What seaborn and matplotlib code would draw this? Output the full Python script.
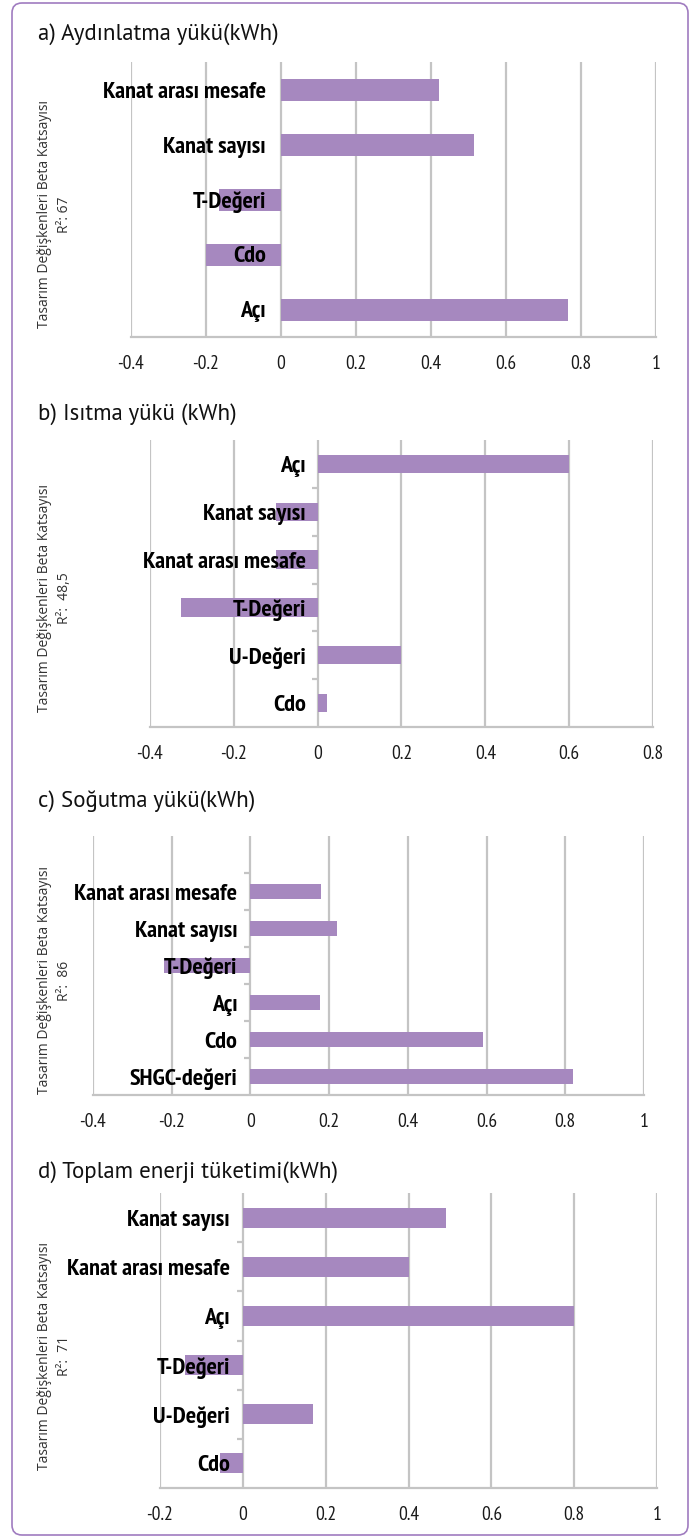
import matplotlib
matplotlib.use('Agg')
import matplotlib.pyplot as plt
import seaborn as sns
import numpy as np
import pandas as pd
from matplotlib.patches import FancyBboxPatch
from matplotlib.transforms import IdentityTransform
from matplotlib.ticker import FixedLocator
import logging
logging.getLogger('matplotlib.font_manager').setLevel(logging.ERROR)

sns.set_theme(style='white')
NARROW = ['PT Sans Narrow', 'Roboto Condensed', 'Archivo Narrow', 'Liberation Sans Narrow', 'DejaVu Sans']
TITLEF = ['PT Sans', 'Lato', 'DejaVu Sans']
LABELF = ['Open Sans', 'DejaVu Sans']
plt.rcParams['font.family'] = NARROW

# ---- data ----
a_cats = ["Kanat arası mesafe", "Kanat sayısı", "T-Değeri", "Cdo", "Açı"]
a_vals = [0.42, 0.515, -0.165, -0.20, 0.765]

b_cats = ["Açı", "Kanat sayısı", "Kanat arası mesafe", "T-Değeri", "U-Değeri", "Cdo"]
b_vals = [0.60, -0.10, -0.10, -0.325, 0.20, 0.022]

c_cats = ["Kanat arası mesafe", "Kanat sayısı", "T-Değeri", "Açı", "Cdo", "SHGC-değeri"]
c_vals = [0.18, 0.22, -0.22, 0.178, 0.59, 0.82]

d_cats = ["Kanat sayısı", "Kanat arası mesafe", "Açı", "T-Değeri", "U-Değeri", "Cdo"]
d_vals = [0.49, 0.40, 0.80, -0.14, 0.17, -0.055]

titles = ["a) Aydınlatma yükü(kWh)", "b) Isıtma yükü (kWh)",
          "c) Soğutma yükü(kWh)", "d) Toplam enerji tüketimi(kWh)"]
ylabel_main = "Tasarım Değişkenleri Beta Katsayısı"
r2_labels = ["R²: 67", "R²:  48,5", "R²:  86", "R²:  71"]

a_ticks = [-0.4, -0.2, 0, 0.2, 0.4, 0.6, 0.8, 1]
b_ticks = [-0.4, -0.2, 0, 0.2, 0.4, 0.6, 0.8]
c_ticks = [-0.4, -0.2, 0, 0.2, 0.4, 0.6, 0.8, 1]
d_ticks = [-0.2, 0, 0.2, 0.4, 0.6, 0.8, 1]

# ---- style / layout ----
W, H = 693, 1538
BAR = '#a688bf'
GRID = '#c4c4c4'
BORDER = '#a07cc0'

panels = [
    dict(cats=a_cats, vals=a_vals, ticks=a_ticks, box=(131, 656, 62, 337), width=0.4, extra=0, seps=False, title_y=34, pad=15),
    dict(cats=b_cats, vals=b_vals, ticks=b_ticks, box=(150, 653, 440, 727), width=0.38, extra=0, seps=True, title_y=414, pad=12),
    dict(cats=c_cats, vals=c_vals, ticks=c_ticks, box=(93, 644, 836, 1095), width=0.41, extra=1, seps=True, title_y=801, pad=13),
    dict(cats=d_cats, vals=d_vals, ticks=d_ticks, box=(160, 657, 1193, 1488), width=0.41, extra=0, seps=True, title_y=1172, pad=13),
]

fig = plt.figure(figsize=(W / 100, H / 100), dpi=100)
fig.patch.set_facecolor('white')

for i, p in enumerate(panels):
    x0, x1, y0, y1 = p['box']
    ax = fig.add_axes([x0 / W, 1 - y1 / H, (x1 - x0) / W, (y1 - y0) / H])
    df = pd.DataFrame({'cat': p['cats'], 'val': p['vals']})
    sns.barplot(data=df, x='val', y='cat', orient='h', order=p['cats'],
                color=BAR, saturation=1, width=p['width'], errorbar=None,
                linewidth=0, ax=ax)
    n = len(p['cats'])
    ticks = p['ticks']
    ax.set_xlim(ticks[0], ticks[-1])
    ax.set_ylim(n - 0.5, -0.5 - p['extra'])
    ax.set_xticks(ticks)
    ax.set_xticklabels([f"{t:g}" for t in ticks])
    ax.set_xlabel('')
    ax.set_ylabel('')
    ax.set_facecolor('white')

    for s in ['top', 'right']:
        ax.spines[s].set_visible(False)
    ax.spines['left'].set_position(('data', 0))
    ax.spines['left'].set_visible(False)
    ax.spines['bottom'].set_color(GRID)
    ax.spines['bottom'].set_linewidth(1.6)

    ax.grid(axis='x', color=GRID, linewidth=1.6)
    ax.grid(axis='y', visible=False)
    ax.set_axisbelow(True)
    ax.yaxis.set_zorder(3)

    ax.tick_params(axis='x', which='major', length=5, width=1.6, color=GRID,
                   direction='out', pad=8, labelsize=14, labelcolor='#1a1a1a')
    ax.tick_params(axis='y', which='major', length=0, pad=p['pad'] * 0.72, labelsize=17.5,
                   labelcolor='black')
    for lab in ax.get_yticklabels():
        lab.set_fontweight('bold')
    if p['seps']:
        top = -0.5 - p['extra']
        seps = [k + 0.5 for k in range(-p['extra'] - 1, n - 1) if k + 0.5 > top]
        ax.yaxis.set_minor_locator(FixedLocator(seps))
        ax.tick_params(axis='y', which='minor', length=4, width=1.6, color=GRID,
                       direction='out', left=True)

    # title
    fig.text(38 / W, 1 - p['title_y'] / H, titles[i], ha='left', va='center',
             fontsize=16.5, family=TITLEF, color='#111111')
    # y labels
    yc = 1 - ((y0 + y1) / 2 + 15) / H
    fig.text(45 / W, yc, ylabel_main, rotation=90, ha='center', va='center',
             fontsize=10, family=LABELF, color='#333333')
    fig.text(64 / W, yc, r2_labels[i], rotation=90, ha='center', va='center',
             fontsize=10, family=LABELF, color='#333333')

border = FancyBboxPatch((12, 3), 676, 1532, boxstyle="round,pad=0,rounding_size=10",
                        transform=IdentityTransform(), facecolor='none',
                        edgecolor=BORDER, linewidth=1.2)
fig.add_artist(border)

fig.savefig('out.png', dpi=100)
